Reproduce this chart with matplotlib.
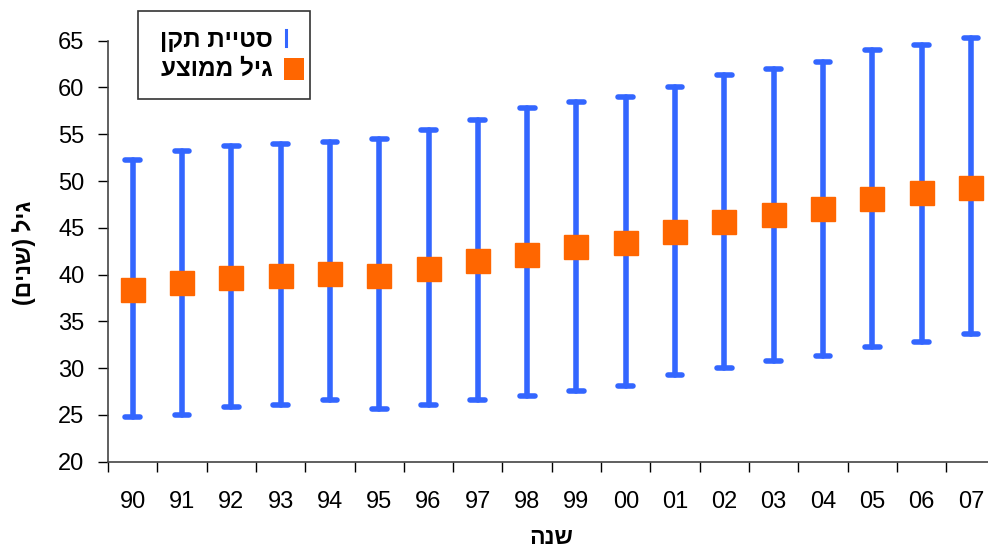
import matplotlib
matplotlib.use("Agg")
import matplotlib.pyplot as plt
from matplotlib.lines import Line2D
from matplotlib.patches import Rectangle
import numpy as np

years = ["90", "91", "92", "93", "94", "95", "96", "97", "98", "99",
         "00", "01", "02", "03", "04", "05", "06", "07"]
mean_age = [38.35, 39.1, 39.6, 39.9, 40.1, 39.9, 40.6, 41.4, 42.1, 42.9,
            43.4, 44.55, 45.65, 46.4, 47.0, 48.1, 48.7, 49.3]
upper = [52.2, 53.2, 53.7, 54.0, 54.2, 54.5, 55.5, 56.5, 57.8, 58.5,
         59.0, 60.0, 61.3, 62.0, 62.75, 64.0, 64.5, 65.3]
lower = [24.8, 25.0, 25.8, 26.1, 26.6, 25.6, 26.1, 26.6, 27.0, 27.55,
         28.06, 29.3, 30.05, 30.8, 31.3, 32.3, 32.8, 33.6]
yticks = [20, 25, 30, 35, 40, 45, 50, 55, 60, 65]

# Hebrew strings in visual (left-to-right) order
lbl_sd = "ןקת תייטס"        # סטיית תקן
lbl_mean = "עצוממ ליג"      # גיל ממוצע
ylabel = "(םינש) ליג"       # גיל (שנים)
xlabel = "הנש"              # שנה

plt.rcParams['font.family'] = ['Liberation Sans', 'DejaVu Sans']

BLUE = "#3366FF"
ORANGE = "#FF6600"

fig = plt.figure(figsize=(9.88, 5.48), dpi=100)
W, H = 988, 548


def fx(px):
    return px / W


def fy(py):
    return 1 - py / H


ax = fig.add_axes([108 / W, (H - 461.7) / H, (995.6 - 108) / W, (461.7 - 40.7) / H])

x = np.arange(len(years))
lw = 4.0
ax.vlines(x, lower, upper, colors=BLUE, linewidth=lw, capstyle='round', zorder=2, clip_on=False)
cap = 0.15
ax.hlines(upper, x - cap, x + cap, colors=BLUE, linewidth=lw, capstyle='round', zorder=2, clip_on=False)
ax.hlines(lower, x - cap, x + cap, colors=BLUE, linewidth=lw, capstyle='round', zorder=2, clip_on=False)
ax.plot(x, mean_age, linestyle='none', marker='s', markersize=17.5,
        markerfacecolor=ORANGE, markeredgecolor=ORANGE, zorder=3, clip_on=False)

ax.set_xlim(-0.5, len(years) - 0.5)
ax.set_ylim(20, 65)
ax.set_yticks(yticks)
ax.set_xticks(x)
ax.set_xticklabels(years)
ax.set_xticks(np.arange(len(years) + 1) - 0.5, minor=True)
ax.tick_params(axis='x', which='major', length=0, pad=21, labelsize=17)
ax.tick_params(axis='x', which='minor', length=7, width=1, direction='out')
ax.tick_params(axis='y', length=7, width=1, direction='out', pad=10, labelsize=17)

for s in ['top', 'right']:
    ax.spines[s].set_visible(False)
for s in ['left', 'bottom']:
    ax.spines[s].set_color('#444444')
    ax.spines[s].set_linewidth(1.2)

fig.text(fx(24), fy(253), ylabel, rotation=90, ha='center', va='center',
         fontsize=16.5, fontweight='bold')
fig.text(fx(551), fy(538), xlabel, ha='center', va='center',
         fontsize=16.5, fontweight='bold')

# legend (drawn in figure coordinates, Excel-style RTL layout)
fig.patches.append(Rectangle((fx(138), fy(99)), fx(310) - fx(138), fy(11) - fy(99),
                             transform=fig.transFigure, facecolor='white',
                             edgecolor='#333333', linewidth=1.2, zorder=5))
fig.text(fx(273), fy(47.5), lbl_sd, ha='right', va='baseline',
         fontsize=17.5, fontweight='bold', zorder=6)
fig.text(fx(273), fy(76), lbl_mean, ha='right', va='baseline',
         fontsize=17.5, fontweight='bold', zorder=6)
fig.lines.append(Line2D([fx(285.5), fx(285.5)], [fy(46), fy(30)], transform=fig.transFigure,
                        color=BLUE, linewidth=2.2, zorder=6))
fig.patches.append(Rectangle((fx(284), fy(79.5)), fx(304) - fx(284), fy(58.5) - fy(79.5),
                             transform=fig.transFigure, facecolor=ORANGE,
                             edgecolor='none', zorder=6))

fig.savefig("out.png", dpi=100)
